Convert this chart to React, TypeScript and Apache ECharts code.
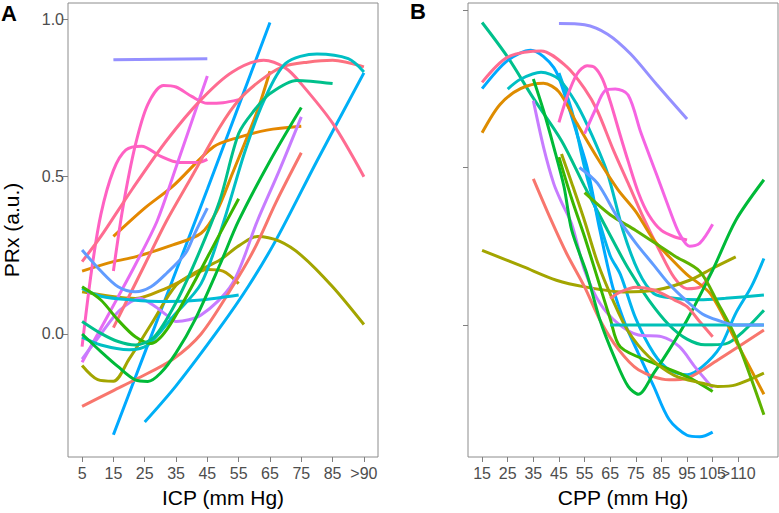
import React, { useEffect, useRef } from "react";
import * as echarts from "echarts";

// ---------- Panel A : ICP (mm Hg) vs PRx ----------
const icpTicks = [5, 15, 25, 35, 45, 55, 65, 75, 85, 95];
const icpTickLabels = ["5", "15", "25", "35", "45", "55", "65", "75", "85", ">90"];
const prxTicks = [0, 0.5, 1.0];
const prxTickLabels = ["0.0", "0.5", "1.0"];

const a01 = [[15, 0.872], [45, 0.875]];
const a02 = [[15, -0.32], [25, -0.06], [35, 0.2], [45, 0.46], [55, 0.725], [65, 0.99]];
const a03 = [[25, -0.28], [35, -0.165], [49, 0.02], [58, 0.15], [67, 0.3], [80, 0.55], [95, 0.83]];
const a04 = [[5, -0.1], [10, -0.145], [15, -0.15], [20, -0.08], [27, 0.03], [35, 0.155], [42, 0.2], [49, 0.235], [55, 0.28], [61, 0.31], [68, 0.295], [75, 0.25], [85, 0.15], [95, 0.03]];
const a05 = [[5, 0.134], [14, 0.12], [22, 0.113], [32, 0.146], [39, 0.18], [45, 0.205], [50, 0.2], [55, 0.16]];
const a06 = [[5, 0.2], [15, 0.23], [22, 0.245], [34, 0.283], [43, 0.32], [48, 0.39], [53, 0.51], [61, 0.71], [65, 0.835]];
const a07 = [[15, 0.31], [25, 0.4], [34, 0.47], [47, 0.595], [55, 0.625], [64, 0.648], [75, 0.66]];
const a08 = [[5, -0.04], [8, 0.2], [11, 0.38], [15, 0.52], [19, 0.585], [24, 0.597], [30, 0.565], [36, 0.545], [42, 0.545], [45, 0.555]];
const a09 = [[15, 0.2], [18, 0.4], [22, 0.6], [26, 0.73], [31, 0.79], [35, 0.785], [40, 0.755], [45, 0.733], [50, 0.735], [55, 0.745]];
const a10 = [[5, -0.09], [10, 0.0], [16.5, 0.118], [22, 0.22], [29, 0.36], [35, 0.53], [45, 0.82]];
const a11 = [[5, -0.08], [11, 0.0], [17, 0.075], [23.5, 0.113], [28, 0.09], [32, 0.06], [35, 0.04], [43, 0.06], [53, 0.16], [61, 0.36], [68, 0.52], [75, 0.69]];
const a12 = [[5, 0.23], [11, 0.31], [21, 0.46], [32, 0.615], [43, 0.745], [53, 0.833], [63, 0.87], [70, 0.845], [75, 0.795], [85, 0.67], [95, 0.5]];
const a13 = [[15, 0.02], [25, 0.22], [32, 0.36], [40, 0.5], [49, 0.658], [55, 0.743], [62, 0.806], [69, 0.849], [77, 0.864], [85, 0.87], [95, 0.849]];
const a14 = [[5, -0.23], [15, -0.18], [23, -0.14], [34, -0.08], [43, 0.0], [53, 0.15], [60, 0.27], [67, 0.42], [75, 0.576]];
const a15 = [[5, 0.145], [11, 0.12], [21, 0.108], [32, 0.103], [43, 0.108], [55, 0.124]];
const a16 = [[5, -0.01], [11, -0.035], [20, -0.05], [26, -0.035], [34, 0.055], [43, 0.16], [50, 0.35], [57, 0.58], [63, 0.74], [70, 0.86], [80, 0.89], [90, 0.875], [95, 0.833]];
const a17 = [[5, 0.0], [11, -0.056], [16.5, -0.104], [22, -0.146], [26, -0.151], [30, -0.125], [35, -0.06], [41, 0.044], [49, 0.22], [55, 0.36], [65, 0.55], [75, 0.72]];
const a18 = [[5, 0.15], [11, 0.108], [16.5, 0.044], [22, -0.009], [27, -0.03], [32, 0.013], [40, 0.15], [48, 0.3], [55, 0.43]];
const a19 = [[5, 0.04], [11, 0.002], [16.5, -0.024], [22, -0.035], [28, -0.01], [35, 0.1], [42, 0.25], [49, 0.425], [55, 0.637], [60, 0.711], [65, 0.764], [73.5, 0.806], [85, 0.796]];
const a20 = [[5, 0.267], [11, 0.2], [16.5, 0.15], [22, 0.134], [27, 0.15], [32, 0.193], [38, 0.256], [41, 0.32], [45, 0.4]];

const icpCurves = [a01, a02, a03, a04, a05, a06, a07, a08, a09, a10, a11, a12, a13, a14, a15, a16, a17, a18, a19, a20];
const icpColors = [
  "#9590FF", "#00A9FF", "#00B0F6", "#A3A500", "#B79F00", "#DE8C00", "#E58700", "#FF61C3", "#FF61C3", "#E76BF3",
  "#C77CFF", "#FF6C91", "#FC717F", "#F8766D", "#00BCD8", "#00BFC4", "#00BA38", "#39B600", "#00C08B", "#619CFF",
];

// ---------- Panel B : CPP (mm Hg) vs PRx ----------
const cppTicks = [15, 25, 35, 45, 55, 65, 75, 85, 95, 105, 115];
const cppLabelValues = [15, 25, 35, 45, 55, 65, 75, 85, 95, 105];
const cppLabels = ["15", "25", "35", "45", "55", "65", "75", "85", "95", "105"];
const cppLastLabelValue = [115];
const cppLastLabel = [">110"];

const b01 = [[45, 0.957], [55, 0.953], [64, 0.923], [73, 0.86], [83, 0.765], [95, 0.654]];
const b02 = [[15, 0.96], [25, 0.85], [35, 0.72], [46, 0.585], [55, 0.44], [64, 0.3], [72, 0.18], [80, 0.08], [88, 0.0], [95, -0.045], [102, -0.063], [110, -0.06], [117, -0.02], [125, 0.047]];
const b03 = [[15, 0.75], [25, 0.84], [34, 0.872], [43, 0.817], [48, 0.712], [52, 0.607], [56, 0.5], [61, 0.3], [66, 0.12], [71, 0.0], [76, -0.09], [82, -0.195], [88, -0.3], [95, -0.35], [100, -0.355], [105, -0.34]];
const b04 = [[45, 0.8], [50, 0.68], [55, 0.5], [60, 0.35], [65, 0.22], [69, 0.16], [75, 0.02], [82, -0.09], [88, -0.142], [95, -0.158], [101, -0.132], [108, -0.069], [114, 0.037], [120, 0.12], [125, 0.211]];
const b05 = [[25, 0.749], [30, 0.78], [38, 0.802], [45, 0.78], [52, 0.7], [58, 0.6], [64, 0.48], [70, 0.3], [76, 0.17], [82, 0.1], [90, 0.085], [100, 0.08], [110, 0.085], [125, 0.095]];
const b06 = [[15, 0.77], [25, 0.85], [38, 0.87], [48, 0.82], [55, 0.75], [60, 0.68], [66, 0.56], [72, 0.45], [78, 0.34], [84, 0.24], [90, 0.15], [95, 0.115], [100, 0.12], [105, 0.175]];
const b07 = [[15, 0.61], [22, 0.7], [30, 0.75], [39, 0.767], [45, 0.74], [52, 0.64], [60, 0.53], [68, 0.43], [75, 0.36], [82, 0.27], [90, 0.2], [95, 0.16], [104, 0.1], [114, -0.05], [125, -0.22]];
const b08 = [[15, 0.237], [31, 0.185], [44, 0.142], [55, 0.121], [70, 0.105], [83, 0.111], [96, 0.142], [105, 0.18], [114, 0.216]];
const b09 = [[35, 0.712], [39, 0.564], [43, 0.448], [46, 0.39], [50, 0.32], [55, 0.174], [61, 0.069], [68, 0.005], [76, -0.032], [85, -0.037], [92, -0.069], [98, -0.132], [105, -0.2]];
const b10 = [[35, 0.464], [42, 0.332], [48, 0.227], [55, 0.121], [61, 0.016], [68, -0.075], [76, -0.142], [88, -0.174], [95, -0.169], [107, -0.111], [125, -0.016]];
const b11 = [[35, 0.781], [39, 0.68], [43, 0.564], [47, 0.438], [50, 0.3], [56, 0.16], [61, 0.016], [67, -0.11], [72, -0.195], [76, -0.22], [82, -0.153], [88, -0.079], [95, 0.016], [105, 0.174], [114, 0.332], [125, 0.461]];
const b12 = [[45, 0.533], [50, 0.4], [55, 0.28], [60, 0.15], [65, 0.02], [69, -0.07], [82, -0.121], [95, -0.164], [105, -0.211]];
const b13 = [[46, 0.543], [50, 0.45], [55, 0.33], [60, 0.2], [66, 0.08], [72, -0.02], [80, -0.1], [90, -0.16], [101, -0.185], [107, -0.195], [114, -0.19], [125, -0.153]];
const b14 = [[55, 0.42], [65, 0.35], [75, 0.3], [90, 0.22], [100, 0.17], [107, 0.07], [114, -0.04], [125, -0.285]];
const b15 = [[65, 0.084], [69, 0.105], [75, 0.12], [82, 0.111], [90, 0.08], [95, 0.058], [100, 0.01], [105, -0.037]];
const b16 = [[65, 0.0], [85, 0.0], [105, 0.0], [125, 0.0]];
const b17 = [[53, 0.5], [60, 0.45], [68, 0.34], [75, 0.26], [82, 0.19], [88, 0.13], [95, 0.075], [101, 0.035], [107, 0.015], [114, 0.0], [125, 0.0]];
const b18 = [[45, 0.643], [48, 0.72], [52, 0.796], [56, 0.823], [59, 0.817], [62, 0.78], [65, 0.71], [69, 0.6], [72, 0.52], [76, 0.42], [80, 0.35], [85, 0.3], [90, 0.28], [95, 0.27]];
const b19 = [[55, 0.607], [59, 0.68], [63, 0.744], [67, 0.749], [72, 0.73], [77, 0.61], [83, 0.48], [88, 0.37], [92, 0.29], [96, 0.25], [100, 0.26], [105, 0.32]];

const cppCurves = [b01, b02, b03, b04, b05, b06, b07, b08, b09, b10, b11, b12, b13, b14, b15, b16, b17, b18, b19];
const cppColors = [
  "#9590FF", "#00C08B", "#00A9FF", "#00B4EF", "#00BFC4", "#FF6C91", "#DE8C00", "#A3A500", "#C77CFF", "#F8766D",
  "#00BA38", "#39B600", "#9EA700", "#5EB300", "#FC717F", "#00C0B8", "#619CFF", "#FF61C3", "#F564E3",
];

const FONT = "'Liberation Sans', Arial, Helvetica, sans-serif";

export default function App() {
  const ref = useRef<HTMLDivElement>(null);

  useEffect(() => {
    if (!ref.current) return;
    const chart = echarts.init(ref.current, undefined, { renderer: "svg" });

    const tickStyle = { show: true, length: 5, inside: false, lineStyle: { color: "#7f7f7f", width: 1 } };
    const labelStyle = { color: "#4d4d4d", fontSize: 16, fontFamily: FONT };

    const pick = (vals: number[], labels: string[]) => (v: number) => {
      const i = vals.findIndex((t) => Math.abs(t - v) < 1e-6);
      return i >= 0 ? labels[i] : "";
    };

    const mkX = (gridIndex: number, min: number, max: number, ticks: number[] | null, labelVals: number[], labels: string[]) => ({
      type: "value",
      gridIndex,
      position: "bottom",
      offset: 0,
      min,
      max,
      axisLine: { show: false, onZero: false },
      splitLine: { show: false },
      axisTick: ticks ? { ...tickStyle, customValues: ticks } : { show: false },
      axisLabel: {
        ...labelStyle,
        margin: 8,
        hideOverlap: false,
        showMinLabel: true,
        showMaxLabel: true,
        customValues: labelVals,
        formatter: pick(labelVals, labels),
      },
    });

    const mkY = (gridIndex: number, min: number, max: number, showLabels: boolean) => ({
      type: "value",
      gridIndex,
      position: "left",
      min,
      max,
      axisLine: { show: false, onZero: false },
      splitLine: { show: false },
      axisTick: { ...tickStyle, customValues: prxTicks },
      axisLabel: {
        ...labelStyle,
        show: showLabels,
        margin: 4,
        hideOverlap: false,
        customValues: prxTicks,
        formatter: pick(prxTicks, prxTickLabels),
      },
    });

    const series: any[] = [];
    icpCurves.forEach((d, i) => {
      series.push({
        type: "line",
        xAxisIndex: 0,
        yAxisIndex: 0,
        data: d,
        smooth: 0.3,
        symbol: "none",
        lineStyle: { color: icpColors[i], width: 3 },
        silent: true,
      });
    });
    cppCurves.forEach((d, i) => {
      series.push({
        type: "line",
        xAxisIndex: 1,
        yAxisIndex: 1,
        data: d,
        smooth: 0.3,
        symbol: "none",
        lineStyle: { color: cppColors[i], width: 3 },
        silent: true,
      });
    });

    const gridBase = {
      top: 3,
      width: 310,
      height: 454,
      show: true,
      borderColor: "#8c8c8c",
      borderWidth: 1,
      backgroundColor: "transparent",
      containLabel: false,
      outerBoundsMode: "none",
    };

    chart.setOption({
      animation: false,
      backgroundColor: "#ffffff",
      grid: [
        { ...gridBase, left: 68 },
        { ...gridBase, left: 468 },
      ],
      xAxis: [
        mkX(0, 0.5, 99.5, icpTicks, icpTicks, icpTickLabels),
        mkX(1, 9.5, 130.5, cppTicks, cppLabelValues, cppLabels),
        mkX(1, 9.5, 130.5, null, cppLastLabelValue, cppLastLabel),
      ],
      yAxis: [mkY(0, -0.391, 1.052, true), mkY(1, -0.419, 1.022, false)],
      series,
      graphic: [
        { type: "text", left: 1, top: 2, style: { text: "A", font: `bold 22px ${FONT}`, fill: "#000" } },
        { type: "text", left: 410, top: 0, style: { text: "B", font: `bold 22px ${FONT}`, fill: "#000" } },
        { type: "text", x: 223, y: 497, style: { text: "ICP (mm Hg)", font: `21px ${FONT}`, fill: "#000", align: "center", verticalAlign: "middle" } },
        { type: "text", x: 623, y: 497, style: { text: "CPP (mm Hg)", font: `21px ${FONT}`, fill: "#000", align: "center", verticalAlign: "middle" } },
        { type: "text", x: 11, y: 230, rotation: Math.PI / 2, style: { text: "PRx (a.u.)", font: `21px ${FONT}`, fill: "#000", align: "center", verticalAlign: "middle" } },
      ],
    });

    return () => chart.dispose();
  }, []);

  return <div ref={ref} style={{ position: "fixed", left: 0, top: 0, width: 779, height: 513, background: "#fff" }} />;
}
